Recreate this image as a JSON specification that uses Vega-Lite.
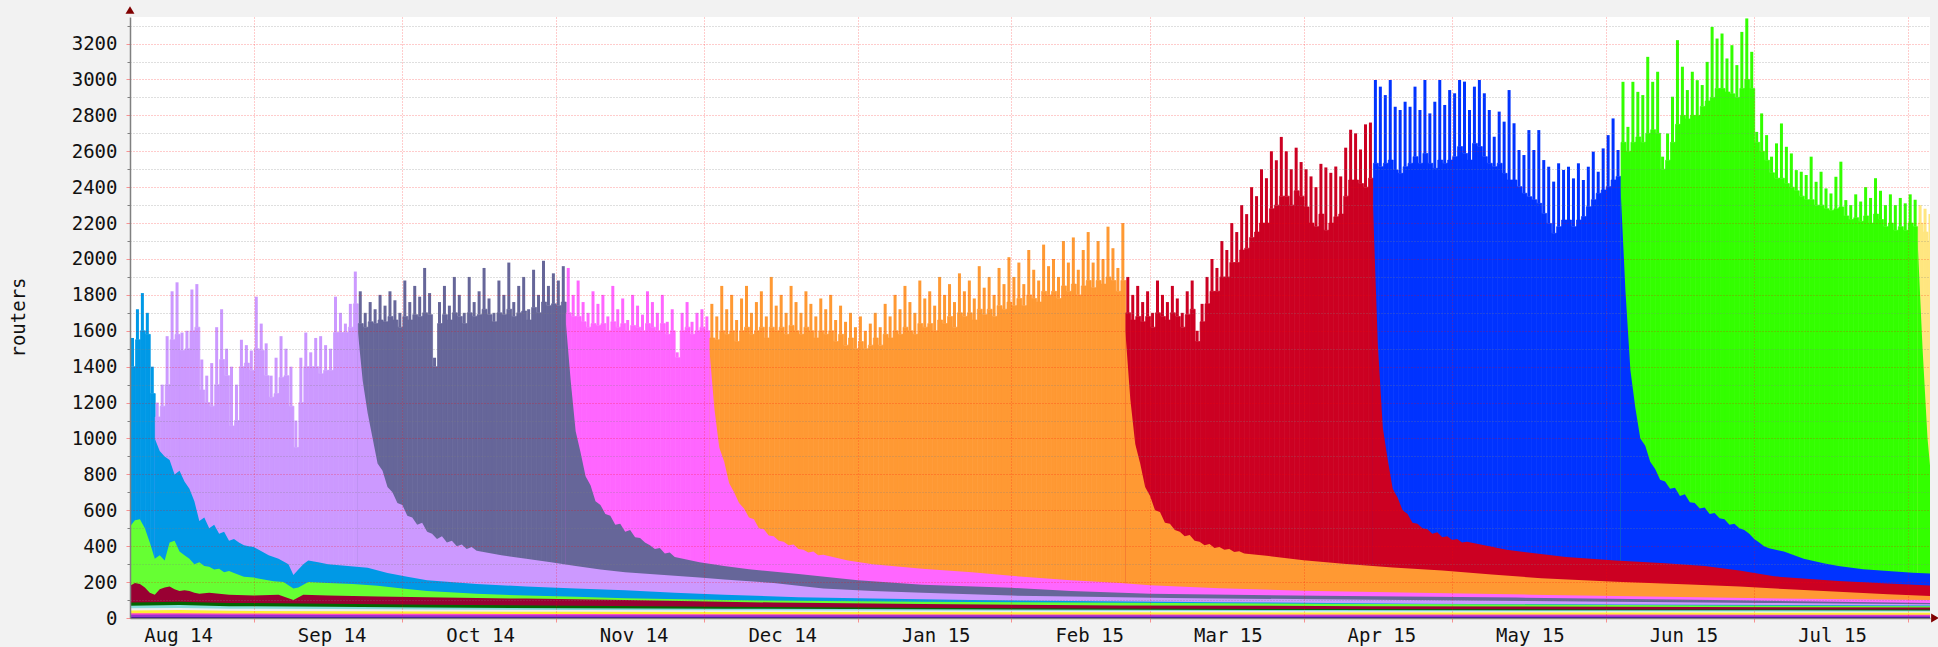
{
"$schema":"https://vega.github.io/schema/vega-lite/v6.json",
"width":1800,"height":601,
"autosize":{"type":"none"},
"padding":{"left":130,"top":17,"right":8,"bottom":29},
"background":"#f2f2f2",
"config":{"view":{"fill":"#ffffff","stroke":null},"font":"DejaVu Sans Mono"},
"datasets":{
"env":[
{"t":"2014-08-07","s":"LB","h":1560,"l":1400},{"t":"2014-08-08","s":"LB","h":1720,"l":1550},{"t":"2014-08-09","s":"LB","h":1810,"l":1600},{"t":"2014-08-10","s":"LB","h":1700,"l":1580},{"t":"2014-08-11","s":"LB","h":1400,"l":1250},
{"t":"2014-08-12","s":"LV","h":1200,"l":1120},{"t":"2014-08-13","s":"LV","h":1300,"l":1180},{"t":"2014-08-14","s":"LV","h":1570,"l":1300},{"t":"2014-08-15","s":"LV","h":1820,"l":1550},{"t":"2014-08-16","s":"LV","h":1870,"l":1580},{"t":"2014-08-17","s":"LV","h":1590,"l":1490},{"t":"2014-08-18","s":"LV","h":1600,"l":1500},{"t":"2014-08-19","s":"LV","h":1830,"l":1600},{"t":"2014-08-20","s":"LV","h":1860,"l":1620},{"t":"2014-08-21","s":"LV","h":1440,"l":1270},{"t":"2014-08-22","s":"LV","h":1350,"l":1200},{"t":"2014-08-23","s":"LV","h":1420,"l":1180},{"t":"2014-08-24","s":"LV","h":1620,"l":1300},{"t":"2014-08-25","s":"LV","h":1720,"l":1440},{"t":"2014-08-26","s":"LV","h":1500,"l":1350},{"t":"2014-08-27","s":"LV","h":1400,"l":1070},{"t":"2014-08-28","s":"LV","h":1300,"l":1100},{"t":"2014-08-29","s":"LV","h":1550,"l":1400},{"t":"2014-08-30","s":"LV","h":1520,"l":1420},{"t":"2014-08-31","s":"LV","h":1490,"l":1380},
{"t":"2014-09-01","s":"LV","h":1790,"l":1500},{"t":"2014-09-02","s":"LV","h":1640,"l":1490},{"t":"2014-09-03","s":"LV","h":1530,"l":1350},{"t":"2014-09-04","s":"LV","h":1350,"l":1230},{"t":"2014-09-05","s":"LV","h":1450,"l":1250},{"t":"2014-09-06","s":"LV","h":1570,"l":1340},{"t":"2014-09-07","s":"LV","h":1500,"l":1350},{"t":"2014-09-08","s":"LV","h":1400,"l":1180},{"t":"2014-09-09","s":"LV","h":1100,"l":950},{"t":"2014-09-10","s":"LV","h":1450,"l":1200},{"t":"2014-09-11","s":"LV","h":1590,"l":1400},{"t":"2014-09-12","s":"LV","h":1480,"l":1400},{"t":"2014-09-13","s":"LV","h":1560,"l":1400},{"t":"2014-09-14","s":"LV","h":1570,"l":1360},{"t":"2014-09-15","s":"LV","h":1520,"l":1380},{"t":"2014-09-16","s":"LV","h":1500,"l":1380},{"t":"2014-09-17","s":"LV","h":1790,"l":1590},{"t":"2014-09-18","s":"LV","h":1700,"l":1590},{"t":"2014-09-19","s":"LV","h":1640,"l":1590},{"t":"2014-09-20","s":"LV","h":1750,"l":1620},{"t":"2014-09-21","s":"LV","h":1930,"l":1750},
{"t":"2014-09-22","s":"SL","h":1820,"l":1640},{"t":"2014-09-23","s":"SL","h":1700,"l":1620},{"t":"2014-09-24","s":"SL","h":1760,"l":1650},{"t":"2014-09-25","s":"SL","h":1720,"l":1640},{"t":"2014-09-26","s":"SL","h":1800,"l":1660},{"t":"2014-09-27","s":"SL","h":1740,"l":1650},{"t":"2014-09-28","s":"SL","h":1820,"l":1680},{"t":"2014-09-29","s":"SL","h":1770,"l":1660},{"t":"2014-09-30","s":"SL","h":1700,"l":1620},
{"t":"2014-10-01","s":"SL","h":1880,"l":1680},{"t":"2014-10-02","s":"SL","h":1760,"l":1660},{"t":"2014-10-03","s":"SL","h":1850,"l":1690},{"t":"2014-10-04","s":"SL","h":1790,"l":1680},{"t":"2014-10-05","s":"SL","h":1950,"l":1700},{"t":"2014-10-06","s":"SL","h":1810,"l":1690},{"t":"2014-10-07","s":"SL","h":1450,"l":1400},{"t":"2014-10-08","s":"SL","h":1760,"l":1640},{"t":"2014-10-09","s":"SL","h":1850,"l":1690},{"t":"2014-10-10","s":"SL","h":1740,"l":1660},{"t":"2014-10-11","s":"SL","h":1900,"l":1700},{"t":"2014-10-12","s":"SL","h":1800,"l":1680},{"t":"2014-10-13","s":"SL","h":1700,"l":1640},{"t":"2014-10-14","s":"SL","h":1900,"l":1700},{"t":"2014-10-15","s":"SL","h":1760,"l":1680},{"t":"2014-10-16","s":"SL","h":1820,"l":1690},{"t":"2014-10-17","s":"SL","h":1950,"l":1720},{"t":"2014-10-18","s":"SL","h":1780,"l":1690},{"t":"2014-10-19","s":"SL","h":1700,"l":1650},{"t":"2014-10-20","s":"SL","h":1880,"l":1700},{"t":"2014-10-21","s":"SL","h":1800,"l":1690},{"t":"2014-10-22","s":"SL","h":1980,"l":1720},{"t":"2014-10-23","s":"SL","h":1760,"l":1680},{"t":"2014-10-24","s":"SL","h":1850,"l":1700},{"t":"2014-10-25","s":"SL","h":1900,"l":1710},{"t":"2014-10-26","s":"SL","h":1720,"l":1660},{"t":"2014-10-27","s":"SL","h":1940,"l":1730},{"t":"2014-10-28","s":"SL","h":1800,"l":1700},{"t":"2014-10-29","s":"SL","h":1990,"l":1760},{"t":"2014-10-30","s":"SL","h":1850,"l":1740},{"t":"2014-10-31","s":"SL","h":1920,"l":1750},
{"t":"2014-11-01","s":"SL","h":1880,"l":1740},{"t":"2014-11-02","s":"SL","h":1960,"l":1760},
{"t":"2014-11-03","s":"PK","h":1950,"l":1700},{"t":"2014-11-04","s":"PK","h":1800,"l":1680},{"t":"2014-11-05","s":"PK","h":1880,"l":1680},{"t":"2014-11-06","s":"PK","h":1760,"l":1650},{"t":"2014-11-07","s":"PK","h":1700,"l":1620},{"t":"2014-11-08","s":"PK","h":1820,"l":1640},{"t":"2014-11-09","s":"PK","h":1750,"l":1630},{"t":"2014-11-10","s":"PK","h":1800,"l":1640},{"t":"2014-11-11","s":"PK","h":1680,"l":1600},{"t":"2014-11-12","s":"PK","h":1850,"l":1650},{"t":"2014-11-13","s":"PK","h":1720,"l":1620},{"t":"2014-11-14","s":"PK","h":1780,"l":1640},{"t":"2014-11-15","s":"PK","h":1660,"l":1600},{"t":"2014-11-16","s":"PK","h":1800,"l":1630},{"t":"2014-11-17","s":"PK","h":1740,"l":1620},{"t":"2014-11-18","s":"PK","h":1690,"l":1600},{"t":"2014-11-19","s":"PK","h":1820,"l":1640},{"t":"2014-11-20","s":"PK","h":1760,"l":1620},{"t":"2014-11-21","s":"PK","h":1700,"l":1600},{"t":"2014-11-22","s":"PK","h":1800,"l":1640},{"t":"2014-11-23","s":"PK","h":1650,"l":1580},{"t":"2014-11-24","s":"PK","h":1720,"l":1600},{"t":"2014-11-25","s":"PK","h":1480,"l":1450},{"t":"2014-11-26","s":"PK","h":1700,"l":1600},{"t":"2014-11-27","s":"PK","h":1760,"l":1620},{"t":"2014-11-28","s":"PK","h":1650,"l":1580},{"t":"2014-11-29","s":"PK","h":1700,"l":1600},{"t":"2014-11-30","s":"PK","h":1720,"l":1620},{"t":"2014-12-01","s":"PK","h":1680,"l":1600},
{"t":"2014-12-02","s":"OR","h":1750,"l":1560},{"t":"2014-12-03","s":"OR","h":1680,"l":1550},{"t":"2014-12-04","s":"OR","h":1850,"l":1600},{"t":"2014-12-05","s":"OR","h":1720,"l":1580},{"t":"2014-12-06","s":"OR","h":1800,"l":1600},{"t":"2014-12-07","s":"OR","h":1660,"l":1540},{"t":"2014-12-08","s":"OR","h":1780,"l":1600},{"t":"2014-12-09","s":"OR","h":1850,"l":1620},{"t":"2014-12-10","s":"OR","h":1700,"l":1580},{"t":"2014-12-11","s":"OR","h":1760,"l":1600},{"t":"2014-12-12","s":"OR","h":1820,"l":1620},{"t":"2014-12-13","s":"OR","h":1680,"l":1560},{"t":"2014-12-14","s":"OR","h":1900,"l":1620},{"t":"2014-12-15","s":"OR","h":1740,"l":1600},{"t":"2014-12-16","s":"OR","h":1800,"l":1620},{"t":"2014-12-17","s":"OR","h":1700,"l":1580},{"t":"2014-12-18","s":"OR","h":1850,"l":1630},{"t":"2014-12-19","s":"OR","h":1760,"l":1600},{"t":"2014-12-20","s":"OR","h":1700,"l":1580},{"t":"2014-12-21","s":"OR","h":1820,"l":1620},{"t":"2014-12-22","s":"OR","h":1750,"l":1600},{"t":"2014-12-23","s":"OR","h":1680,"l":1560},{"t":"2014-12-24","s":"OR","h":1780,"l":1600},{"t":"2014-12-25","s":"OR","h":1720,"l":1580},{"t":"2014-12-26","s":"OR","h":1800,"l":1600},{"t":"2014-12-27","s":"OR","h":1660,"l":1540},{"t":"2014-12-28","s":"OR","h":1740,"l":1580},{"t":"2014-12-29","s":"OR","h":1650,"l":1520},{"t":"2014-12-30","s":"OR","h":1700,"l":1560},{"t":"2014-12-31","s":"OR","h":1620,"l":1500},
{"t":"2015-01-01","s":"OR","h":1680,"l":1540},{"t":"2015-01-02","s":"OR","h":1600,"l":1500},{"t":"2015-01-03","s":"OR","h":1640,"l":1520},{"t":"2015-01-04","s":"OR","h":1700,"l":1560},{"t":"2015-01-05","s":"OR","h":1620,"l":1520},{"t":"2015-01-06","s":"OR","h":1750,"l":1580},{"t":"2015-01-07","s":"OR","h":1680,"l":1560},{"t":"2015-01-08","s":"OR","h":1800,"l":1600},{"t":"2015-01-09","s":"OR","h":1720,"l":1580},{"t":"2015-01-10","s":"OR","h":1850,"l":1620},{"t":"2015-01-11","s":"OR","h":1760,"l":1600},{"t":"2015-01-12","s":"OR","h":1700,"l":1580},{"t":"2015-01-13","s":"OR","h":1880,"l":1640},{"t":"2015-01-14","s":"OR","h":1780,"l":1620},{"t":"2015-01-15","s":"OR","h":1820,"l":1640},{"t":"2015-01-16","s":"OR","h":1740,"l":1600},{"t":"2015-01-17","s":"OR","h":1900,"l":1660},{"t":"2015-01-18","s":"OR","h":1800,"l":1640},{"t":"2015-01-19","s":"OR","h":1860,"l":1680},{"t":"2015-01-20","s":"OR","h":1760,"l":1620},{"t":"2015-01-21","s":"OR","h":1920,"l":1700},{"t":"2015-01-22","s":"OR","h":1820,"l":1680},{"t":"2015-01-23","s":"OR","h":1880,"l":1700},{"t":"2015-01-24","s":"OR","h":1780,"l":1660},{"t":"2015-01-25","s":"OR","h":1960,"l":1720},{"t":"2015-01-26","s":"OR","h":1840,"l":1690},{"t":"2015-01-27","s":"OR","h":1900,"l":1720},{"t":"2015-01-28","s":"OR","h":1800,"l":1680},{"t":"2015-01-29","s":"OR","h":1950,"l":1740},{"t":"2015-01-30","s":"OR","h":1860,"l":1720},{"t":"2015-01-31","s":"OR","h":2010,"l":1760},
{"t":"2015-02-01","s":"OR","h":1900,"l":1740},{"t":"2015-02-02","s":"OR","h":1980,"l":1780},{"t":"2015-02-03","s":"OR","h":1860,"l":1740},{"t":"2015-02-04","s":"OR","h":2050,"l":1800},{"t":"2015-02-05","s":"OR","h":1940,"l":1780},{"t":"2015-02-06","s":"OR","h":1880,"l":1760},{"t":"2015-02-07","s":"OR","h":2080,"l":1820},{"t":"2015-02-08","s":"OR","h":1960,"l":1800},{"t":"2015-02-09","s":"OR","h":2000,"l":1820},{"t":"2015-02-10","s":"OR","h":1900,"l":1780},{"t":"2015-02-11","s":"OR","h":2100,"l":1850},{"t":"2015-02-12","s":"OR","h":1980,"l":1820},{"t":"2015-02-13","s":"OR","h":2120,"l":1860},{"t":"2015-02-14","s":"OR","h":1940,"l":1800},{"t":"2015-02-15","s":"OR","h":2050,"l":1850},{"t":"2015-02-16","s":"OR","h":2150,"l":1880},{"t":"2015-02-17","s":"OR","h":1980,"l":1840},{"t":"2015-02-18","s":"OR","h":2100,"l":1880},{"t":"2015-02-19","s":"OR","h":2000,"l":1860},{"t":"2015-02-20","s":"OR","h":2180,"l":1900},{"t":"2015-02-21","s":"OR","h":2060,"l":1880},{"t":"2015-02-22","s":"OR","h":1950,"l":1820},{"t":"2015-02-23","s":"OR","h":2200,"l":1880},
{"t":"2015-02-24","s":"RD","h":1900,"l":1700},{"t":"2015-02-25","s":"RD","h":1800,"l":1660},{"t":"2015-02-26","s":"RD","h":1850,"l":1680},{"t":"2015-02-27","s":"RD","h":1760,"l":1650},{"t":"2015-02-28","s":"RD","h":1820,"l":1680},
{"t":"2015-03-01","s":"RD","h":1700,"l":1620},{"t":"2015-03-02","s":"RD","h":1880,"l":1700},{"t":"2015-03-03","s":"RD","h":1800,"l":1680},{"t":"2015-03-04","s":"RD","h":1760,"l":1660},{"t":"2015-03-05","s":"RD","h":1850,"l":1700},{"t":"2015-03-06","s":"RD","h":1780,"l":1680},{"t":"2015-03-07","s":"RD","h":1700,"l":1620},{"t":"2015-03-08","s":"RD","h":1820,"l":1690},{"t":"2015-03-09","s":"RD","h":1880,"l":1720},{"t":"2015-03-10","s":"RD","h":1600,"l":1540},{"t":"2015-03-11","s":"RD","h":1750,"l":1650},{"t":"2015-03-12","s":"RD","h":1900,"l":1750},{"t":"2015-03-13","s":"RD","h":2000,"l":1820},{"t":"2015-03-14","s":"RD","h":1950,"l":1820},{"t":"2015-03-15","s":"RD","h":2100,"l":1900},{"t":"2015-03-16","s":"RD","h":2050,"l":1900},{"t":"2015-03-17","s":"RD","h":2200,"l":1980},{"t":"2015-03-18","s":"RD","h":2150,"l":1980},{"t":"2015-03-19","s":"RD","h":2300,"l":2050},{"t":"2015-03-20","s":"RD","h":2250,"l":2060},{"t":"2015-03-21","s":"RD","h":2400,"l":2120},{"t":"2015-03-22","s":"RD","h":2350,"l":2150},{"t":"2015-03-23","s":"RD","h":2500,"l":2200},{"t":"2015-03-24","s":"RD","h":2450,"l":2200},{"t":"2015-03-25","s":"RD","h":2600,"l":2280},{"t":"2015-03-26","s":"RD","h":2550,"l":2300},{"t":"2015-03-27","s":"RD","h":2680,"l":2350},{"t":"2015-03-28","s":"RD","h":2600,"l":2350},{"t":"2015-03-29","s":"RD","h":2500,"l":2300},{"t":"2015-03-30","s":"RD","h":2620,"l":2380},{"t":"2015-03-31","s":"RD","h":2540,"l":2350},
{"t":"2015-04-01","s":"RD","h":2500,"l":2290},{"t":"2015-04-02","s":"RD","h":2460,"l":2200},{"t":"2015-04-03","s":"RD","h":2400,"l":2180},{"t":"2015-04-04","s":"RD","h":2530,"l":2250},{"t":"2015-04-05","s":"RD","h":2510,"l":2160},{"t":"2015-04-06","s":"RD","h":2480,"l":2200},{"t":"2015-04-07","s":"RD","h":2515,"l":2235},{"t":"2015-04-08","s":"RD","h":2460,"l":2250},{"t":"2015-04-09","s":"RD","h":2620,"l":2350},{"t":"2015-04-10","s":"RD","h":2720,"l":2440},{"t":"2015-04-11","s":"RD","h":2700,"l":2440},{"t":"2015-04-12","s":"RD","h":2610,"l":2420},{"t":"2015-04-13","s":"RD","h":2750,"l":2400},{"t":"2015-04-14","s":"RD","h":2760,"l":2450},
{"t":"2015-04-15","s":"BL","h":2997,"l":2533},{"t":"2015-04-16","s":"BL","h":2960,"l":2514},{"t":"2015-04-17","s":"BL","h":2913,"l":2533},{"t":"2015-04-18","s":"BL","h":2997,"l":2551},{"t":"2015-04-19","s":"BL","h":2848,"l":2496},{"t":"2015-04-20","s":"BL","h":2830,"l":2477},{"t":"2015-04-21","s":"BL","h":2876,"l":2514},{"t":"2015-04-22","s":"BL","h":2848,"l":2533},{"t":"2015-04-23","s":"BL","h":2960,"l":2570},{"t":"2015-04-24","s":"BL","h":2830,"l":2533},{"t":"2015-04-25","s":"BL","h":2997,"l":2588},{"t":"2015-04-26","s":"BL","h":2811,"l":2533},{"t":"2015-04-27","s":"BL","h":2876,"l":2505},{"t":"2015-04-28","s":"BL","h":2997,"l":2551},{"t":"2015-04-29","s":"BL","h":2858,"l":2533},{"t":"2015-04-30","s":"BL","h":2941,"l":2551},
{"t":"2015-05-01","s":"BL","h":2923,"l":2570},{"t":"2015-05-02","s":"BL","h":2997,"l":2626},{"t":"2015-05-03","s":"BL","h":2988,"l":2588},{"t":"2015-05-04","s":"BL","h":2830,"l":2551},{"t":"2015-05-05","s":"BL","h":2960,"l":2644},{"t":"2015-05-06","s":"BL","h":2997,"l":2626},{"t":"2015-05-07","s":"BL","h":2923,"l":2570},{"t":"2015-05-08","s":"BL","h":2830,"l":2533},{"t":"2015-05-09","s":"BL","h":2681,"l":2514},{"t":"2015-05-10","s":"BL","h":2821,"l":2533},{"t":"2015-05-11","s":"BL","h":2765,"l":2477},{"t":"2015-05-12","s":"BL","h":2941,"l":2440},{"t":"2015-05-13","s":"BL","h":2756,"l":2440},{"t":"2015-05-14","s":"BL","h":2607,"l":2403},{"t":"2015-05-15","s":"BL","h":2579,"l":2366},{"t":"2015-05-16","s":"BL","h":2718,"l":2347},{"t":"2015-05-17","s":"BL","h":2607,"l":2330},{"t":"2015-05-18","s":"BL","h":2718,"l":2310},{"t":"2015-05-19","s":"BL","h":2551,"l":2254},{"t":"2015-05-20","s":"BL","h":2514,"l":2198},{"t":"2015-05-21","s":"BL","h":2431,"l":2143},{"t":"2015-05-22","s":"BL","h":2533,"l":2180},{"t":"2015-05-23","s":"BL","h":2496,"l":2217},{"t":"2015-05-24","s":"BL","h":2514,"l":2217},{"t":"2015-05-25","s":"BL","h":2449,"l":2180},{"t":"2015-05-26","s":"BL","h":2533,"l":2217},{"t":"2015-05-27","s":"BL","h":2440,"l":2236},{"t":"2015-05-28","s":"BL","h":2514,"l":2291},{"t":"2015-05-29","s":"BL","h":2598,"l":2330},{"t":"2015-05-30","s":"BL","h":2486,"l":2366},{"t":"2015-05-31","s":"BL","h":2616,"l":2384},
{"t":"2015-06-01","s":"BL","h":2690,"l":2403},{"t":"2015-06-02","s":"BL","h":2783,"l":2440},{"t":"2015-06-03","s":"BL","h":2607,"l":2460},
{"t":"2015-06-04","s":"GR","h":2987,"l":2650},{"t":"2015-06-05","s":"GR","h":2736,"l":2600},{"t":"2015-06-06","s":"GR","h":2987,"l":2650},{"t":"2015-06-07","s":"GR","h":2931,"l":2680},{"t":"2015-06-08","s":"GR","h":2913,"l":2650},{"t":"2015-06-09","s":"GR","h":3126,"l":2700},{"t":"2015-06-10","s":"GR","h":2987,"l":2720},{"t":"2015-06-11","s":"GR","h":3043,"l":2700},{"t":"2015-06-12","s":"GR","h":2570,"l":2500},{"t":"2015-06-13","s":"GR","h":2699,"l":2550},{"t":"2015-06-14","s":"GR","h":2904,"l":2650},{"t":"2015-06-15","s":"GR","h":3219,"l":2750},{"t":"2015-06-16","s":"GR","h":3071,"l":2800},{"t":"2015-06-17","s":"GR","h":2941,"l":2780},{"t":"2015-06-18","s":"GR","h":3043,"l":2800},{"t":"2015-06-19","s":"GR","h":2996,"l":2800},{"t":"2015-06-20","s":"GR","h":2969,"l":2850},{"t":"2015-06-21","s":"GR","h":3098,"l":2880},{"t":"2015-06-22","s":"GR","h":3293,"l":2900},{"t":"2015-06-23","s":"GR","h":3228,"l":2950},{"t":"2015-06-24","s":"GR","h":3256,"l":2950},{"t":"2015-06-25","s":"GR","h":3117,"l":2930},{"t":"2015-06-26","s":"GR","h":3191,"l":2920},{"t":"2015-06-27","s":"GR","h":3080,"l":2900},{"t":"2015-06-28","s":"GR","h":3265,"l":2950},{"t":"2015-06-29","s":"GR","h":3340,"l":3000},{"t":"2015-06-30","s":"GR","h":3154,"l":2950},
{"t":"2015-07-01","s":"GR","h":2708,"l":2650},{"t":"2015-07-02","s":"GR","h":2811,"l":2600},{"t":"2015-07-03","s":"GR","h":2690,"l":2550},{"t":"2015-07-04","s":"GR","h":2570,"l":2480},{"t":"2015-07-05","s":"GR","h":2644,"l":2450},{"t":"2015-07-06","s":"GR","h":2755,"l":2450},{"t":"2015-07-07","s":"GR","h":2625,"l":2420},{"t":"2015-07-08","s":"GR","h":2588,"l":2400},{"t":"2015-07-09","s":"GR","h":2495,"l":2380},{"t":"2015-07-10","s":"GR","h":2486,"l":2350},{"t":"2015-07-11","s":"GR","h":2468,"l":2330},{"t":"2015-07-12","s":"GR","h":2570,"l":2330},{"t":"2015-07-13","s":"GR","h":2430,"l":2300},{"t":"2015-07-14","s":"GR","h":2486,"l":2300},{"t":"2015-07-15","s":"GR","h":2393,"l":2280},{"t":"2015-07-16","s":"GR","h":2365,"l":2270},{"t":"2015-07-17","s":"GR","h":2458,"l":2280},{"t":"2015-07-18","s":"GR","h":2542,"l":2290},{"t":"2015-07-19","s":"GR","h":2328,"l":2240},{"t":"2015-07-20","s":"GR","h":2300,"l":2220},{"t":"2015-07-21","s":"GR","h":2360,"l":2230},{"t":"2015-07-22","s":"GR","h":2320,"l":2210},{"t":"2015-07-23","s":"GR","h":2400,"l":2240},{"t":"2015-07-24","s":"GR","h":2340,"l":2200},{"t":"2015-07-25","s":"GR","h":2450,"l":2250},{"t":"2015-07-26","s":"GR","h":2380,"l":2220},{"t":"2015-07-27","s":"GR","h":2300,"l":2180},{"t":"2015-07-28","s":"GR","h":2360,"l":2200},{"t":"2015-07-29","s":"GR","h":2300,"l":2160},{"t":"2015-07-30","s":"GR","h":2340,"l":2180},{"t":"2015-07-31","s":"GR","h":2310,"l":2160},
{"t":"2015-08-01","s":"GR","h":2360,"l":2200},{"t":"2015-08-02","s":"GR","h":2330,"l":2180},
{"t":"2015-08-03","s":"YE","h":2300,"l":2200},{"t":"2015-08-04","s":"YE","h":2280,"l":2150},{"t":"2015-08-05","s":"YE","h":2250,"l":2100}
],
"dec":[
{"s":"GR","t":"2015-08-03","v":2100},{"s":"GR","t":"2015-08-04","v":1500},{"s":"GR","t":"2015-08-05","v":1000},{"s":"GR","t":"2015-08-06","v":700},
{"s":"BL","t":"2015-06-04","v":2400},{"s":"BL","t":"2015-06-05","v":1820},{"s":"BL","t":"2015-06-06","v":1380},{"s":"BL","t":"2015-06-07","v":1170},{"s":"BL","t":"2015-06-08","v":1000},{"s":"BL","t":"2015-06-09","v":960},{"s":"BL","t":"2015-06-10","v":870},{"s":"BL","t":"2015-06-11","v":830},{"s":"BL","t":"2015-06-12","v":770},{"s":"BL","t":"2015-06-13","v":760},{"s":"BL","t":"2015-06-14","v":720},{"s":"BL","t":"2015-06-15","v":725},{"s":"BL","t":"2015-06-16","v":680},{"s":"BL","t":"2015-06-17","v":690},{"s":"BL","t":"2015-06-18","v":645},{"s":"BL","t":"2015-06-19","v":640},{"s":"BL","t":"2015-06-20","v":610},{"s":"BL","t":"2015-06-21","v":615},{"s":"BL","t":"2015-06-22","v":580},{"s":"BL","t":"2015-06-23","v":585},{"s":"BL","t":"2015-06-24","v":555},{"s":"BL","t":"2015-06-25","v":550},{"s":"BL","t":"2015-06-26","v":520},{"s":"BL","t":"2015-06-27","v":525},{"s":"BL","t":"2015-06-28","v":500},{"s":"BL","t":"2015-06-29","v":490},{"s":"BL","t":"2015-06-30","v":470},{"s":"BL","t":"2015-07-01","v":440},{"s":"BL","t":"2015-07-02","v":420},{"s":"BL","t":"2015-07-03","v":400},{"s":"BL","t":"2015-07-04","v":388},{"s":"BL","t":"2015-07-07","v":370},{"s":"BL","t":"2015-07-11","v":330},{"s":"BL","t":"2015-07-15","v":305},{"s":"BL","t":"2015-07-18","v":290},{"s":"BL","t":"2015-07-23","v":272},{"s":"BL","t":"2015-07-28","v":262},{"s":"BL","t":"2015-08-02","v":252},{"s":"BL","t":"2015-08-06","v":248},
{"s":"RD","t":"2015-04-15","v":2300},{"s":"RD","t":"2015-04-16","v":1520},{"s":"RD","t":"2015-04-17","v":1060},{"s":"RD","t":"2015-04-18","v":880},{"s":"RD","t":"2015-04-19","v":720},{"s":"RD","t":"2015-04-20","v":670},{"s":"RD","t":"2015-04-21","v":600},{"s":"RD","t":"2015-04-22","v":580},{"s":"RD","t":"2015-04-23","v":530},{"s":"RD","t":"2015-04-24","v":525},{"s":"RD","t":"2015-04-25","v":500},{"s":"RD","t":"2015-04-26","v":495},{"s":"RD","t":"2015-04-27","v":470},{"s":"RD","t":"2015-04-28","v":478},{"s":"RD","t":"2015-04-29","v":450},{"s":"RD","t":"2015-04-30","v":455},{"s":"RD","t":"2015-05-01","v":435},{"s":"RD","t":"2015-05-02","v":440},{"s":"RD","t":"2015-05-03","v":420},{"s":"RD","t":"2015-05-04","v":425},{"s":"RD","t":"2015-05-12","v":380},{"s":"RD","t":"2015-05-24","v":340},{"s":"RD","t":"2015-06-03","v":320},{"s":"RD","t":"2015-06-13","v":305},{"s":"RD","t":"2015-06-21","v":290},{"s":"RD","t":"2015-06-28","v":265},{"s":"RD","t":"2015-07-05","v":232},{"s":"RD","t":"2015-07-18","v":206},{"s":"RD","t":"2015-07-28","v":192},{"s":"RD","t":"2015-08-06","v":180},
{"s":"OR","t":"2015-02-24","v":1600},{"s":"OR","t":"2015-02-25","v":1220},{"s":"OR","t":"2015-02-26","v":970},{"s":"OR","t":"2015-02-27","v":860},{"s":"OR","t":"2015-02-28","v":730},{"s":"OR","t":"2015-03-01","v":680},{"s":"OR","t":"2015-03-02","v":600},{"s":"OR","t":"2015-03-03","v":590},{"s":"OR","t":"2015-03-04","v":530},{"s":"OR","t":"2015-03-05","v":525},{"s":"OR","t":"2015-03-06","v":490},{"s":"OR","t":"2015-03-07","v":480},{"s":"OR","t":"2015-03-08","v":455},{"s":"OR","t":"2015-03-09","v":462},{"s":"OR","t":"2015-03-10","v":430},{"s":"OR","t":"2015-03-11","v":425},{"s":"OR","t":"2015-03-12","v":405},{"s":"OR","t":"2015-03-13","v":412},{"s":"OR","t":"2015-03-14","v":390},{"s":"OR","t":"2015-03-15","v":395},{"s":"OR","t":"2015-03-16","v":380},{"s":"OR","t":"2015-03-17","v":385},{"s":"OR","t":"2015-03-18","v":368},{"s":"OR","t":"2015-03-19","v":372},{"s":"OR","t":"2015-03-20","v":360},{"s":"OR","t":"2015-03-25","v":345},{"s":"OR","t":"2015-04-01","v":322},{"s":"OR","t":"2015-04-09","v":302},{"s":"OR","t":"2015-04-19","v":282},{"s":"OR","t":"2015-04-29","v":265},{"s":"OR","t":"2015-05-09","v":242},{"s":"OR","t":"2015-05-19","v":222},{"s":"OR","t":"2015-06-03","v":202},{"s":"OR","t":"2015-06-18","v":186},{"s":"OR","t":"2015-06-28","v":175},{"s":"OR","t":"2015-07-08","v":160},{"s":"OR","t":"2015-07-18","v":146},{"s":"OR","t":"2015-07-28","v":132},{"s":"OR","t":"2015-08-06","v":122},
{"s":"PK","t":"2014-12-02","v":1500},{"s":"PK","t":"2014-12-03","v":1170},{"s":"PK","t":"2014-12-04","v":950},{"s":"PK","t":"2014-12-05","v":870},{"s":"PK","t":"2014-12-06","v":750},{"s":"PK","t":"2014-12-07","v":700},{"s":"PK","t":"2014-12-08","v":640},{"s":"PK","t":"2014-12-09","v":610},{"s":"PK","t":"2014-12-10","v":560},{"s":"PK","t":"2014-12-11","v":550},{"s":"PK","t":"2014-12-12","v":500},{"s":"PK","t":"2014-12-13","v":495},{"s":"PK","t":"2014-12-14","v":460},{"s":"PK","t":"2014-12-15","v":455},{"s":"PK","t":"2014-12-16","v":430},{"s":"PK","t":"2014-12-17","v":425},{"s":"PK","t":"2014-12-18","v":405},{"s":"PK","t":"2014-12-19","v":410},{"s":"PK","t":"2014-12-20","v":385},{"s":"PK","t":"2014-12-21","v":380},{"s":"PK","t":"2014-12-22","v":365},{"s":"PK","t":"2014-12-23","v":370},{"s":"PK","t":"2014-12-24","v":350},{"s":"PK","t":"2014-12-25","v":352},{"s":"PK","t":"2014-12-30","v":320},{"s":"PK","t":"2015-01-04","v":300},{"s":"PK","t":"2015-01-14","v":275},{"s":"PK","t":"2015-01-24","v":255},{"s":"PK","t":"2015-02-01","v":235},{"s":"PK","t":"2015-02-13","v":210},{"s":"PK","t":"2015-02-23","v":195},{"s":"PK","t":"2015-03-01","v":182},{"s":"PK","t":"2015-03-15","v":166},{"s":"PK","t":"2015-04-01","v":152},{"s":"PK","t":"2015-04-24","v":140},{"s":"PK","t":"2015-05-17","v":130},{"s":"PK","t":"2015-06-03","v":122},{"s":"PK","t":"2015-07-03","v":110},{"s":"PK","t":"2015-08-06","v":100},
{"s":"SL","t":"2014-11-03","v":1650},{"s":"SL","t":"2014-11-04","v":1320},{"s":"SL","t":"2014-11-05","v":1040},{"s":"SL","t":"2014-11-06","v":920},{"s":"SL","t":"2014-11-07","v":790},{"s":"SL","t":"2014-11-08","v":740},{"s":"SL","t":"2014-11-09","v":650},{"s":"SL","t":"2014-11-10","v":630},{"s":"SL","t":"2014-11-11","v":580},{"s":"SL","t":"2014-11-12","v":570},{"s":"SL","t":"2014-11-13","v":520},{"s":"SL","t":"2014-11-14","v":525},{"s":"SL","t":"2014-11-15","v":480},{"s":"SL","t":"2014-11-16","v":490},{"s":"SL","t":"2014-11-17","v":450},{"s":"SL","t":"2014-11-18","v":445},{"s":"SL","t":"2014-11-19","v":420},{"s":"SL","t":"2014-11-20","v":405},{"s":"SL","t":"2014-11-21","v":385},{"s":"SL","t":"2014-11-22","v":390},{"s":"SL","t":"2014-11-23","v":360},{"s":"SL","t":"2014-11-24","v":365},{"s":"SL","t":"2014-11-25","v":340},{"s":"SL","t":"2014-11-30","v":310},{"s":"SL","t":"2014-12-05","v":290},{"s":"SL","t":"2014-12-10","v":272},{"s":"SL","t":"2014-12-20","v":245},{"s":"SL","t":"2015-01-01","v":210},{"s":"SL","t":"2015-01-14","v":185},{"s":"SL","t":"2015-02-01","v":168},{"s":"SL","t":"2015-02-13","v":150},{"s":"SL","t":"2015-03-01","v":135},{"s":"SL","t":"2015-04-04","v":124},{"s":"SL","t":"2015-05-14","v":114},{"s":"SL","t":"2015-06-23","v":100},{"s":"SL","t":"2015-08-06","v":84},
{"s":"LV","t":"2014-09-22","v":1600},{"s":"LV","t":"2014-09-23","v":1320},{"s":"LV","t":"2014-09-24","v":1140},{"s":"LV","t":"2014-09-25","v":1000},{"s":"LV","t":"2014-09-26","v":860},{"s":"LV","t":"2014-09-27","v":820},{"s":"LV","t":"2014-09-28","v":730},{"s":"LV","t":"2014-09-29","v":700},{"s":"LV","t":"2014-09-30","v":640},{"s":"LV","t":"2014-10-01","v":630},{"s":"LV","t":"2014-10-02","v":570},{"s":"LV","t":"2014-10-03","v":560},{"s":"LV","t":"2014-10-04","v":520},{"s":"LV","t":"2014-10-05","v":530},{"s":"LV","t":"2014-10-06","v":480},{"s":"LV","t":"2014-10-07","v":470},{"s":"LV","t":"2014-10-08","v":440},{"s":"LV","t":"2014-10-09","v":455},{"s":"LV","t":"2014-10-10","v":420},{"s":"LV","t":"2014-10-11","v":430},{"s":"LV","t":"2014-10-12","v":400},{"s":"LV","t":"2014-10-13","v":410},{"s":"LV","t":"2014-10-14","v":385},{"s":"LV","t":"2014-10-15","v":395},{"s":"LV","t":"2014-10-16","v":375},{"s":"LV","t":"2014-10-21","v":350},{"s":"LV","t":"2014-10-26","v":330},{"s":"LV","t":"2014-10-31","v":310},{"s":"LV","t":"2014-11-05","v":290},{"s":"LV","t":"2014-11-10","v":270},{"s":"LV","t":"2014-11-15","v":255},{"s":"LV","t":"2014-11-20","v":245},{"s":"LV","t":"2014-11-25","v":235},{"s":"LV","t":"2014-11-30","v":225},{"s":"LV","t":"2014-12-05","v":215},{"s":"LV","t":"2014-12-15","v":195},{"s":"LV","t":"2014-12-25","v":165},{"s":"LV","t":"2015-01-04","v":150},{"s":"LV","t":"2015-01-14","v":140},{"s":"LV","t":"2015-02-01","v":125},{"s":"LV","t":"2015-02-13","v":120},{"s":"LV","t":"2015-03-05","v":112},{"s":"LV","t":"2015-04-04","v":104},{"s":"LV","t":"2015-05-04","v":98},{"s":"LV","t":"2015-06-03","v":90},{"s":"LV","t":"2015-07-03","v":84},{"s":"LV","t":"2015-08-06","v":76},
{"s":"LB","t":"2014-08-12","v":1000},{"s":"LB","t":"2014-08-13","v":930},{"s":"LB","t":"2014-08-14","v":900},{"s":"LB","t":"2014-08-15","v":880},{"s":"LB","t":"2014-08-16","v":800},{"s":"LB","t":"2014-08-17","v":820},{"s":"LB","t":"2014-08-18","v":760},{"s":"LB","t":"2014-08-19","v":720},{"s":"LB","t":"2014-08-20","v":650},{"s":"LB","t":"2014-08-21","v":540},{"s":"LB","t":"2014-08-22","v":560},{"s":"LB","t":"2014-08-23","v":500},{"s":"LB","t":"2014-08-24","v":520},{"s":"LB","t":"2014-08-25","v":470},{"s":"LB","t":"2014-08-26","v":480},{"s":"LB","t":"2014-08-27","v":430},{"s":"LB","t":"2014-08-28","v":440},{"s":"LB","t":"2014-08-29","v":420},{"s":"LB","t":"2014-08-30","v":405},{"s":"LB","t":"2014-08-31","v":400},{"s":"LB","t":"2014-09-01","v":395},{"s":"LB","t":"2014-09-02","v":380},{"s":"LB","t":"2014-09-03","v":365},{"s":"LB","t":"2014-09-04","v":350},{"s":"LB","t":"2014-09-05","v":340},{"s":"LB","t":"2014-09-06","v":330},{"s":"LB","t":"2014-09-07","v":315},{"s":"LB","t":"2014-09-08","v":300},{"s":"LB","t":"2014-09-09","v":240},{"s":"LB","t":"2014-09-10","v":270},{"s":"LB","t":"2014-09-11","v":300},{"s":"LB","t":"2014-09-12","v":320},{"s":"LB","t":"2014-09-14","v":310},{"s":"LB","t":"2014-09-16","v":300},{"s":"LB","t":"2014-09-20","v":290},{"s":"LB","t":"2014-09-24","v":280},{"s":"LB","t":"2014-09-28","v":250},{"s":"LB","t":"2014-10-02","v":230},{"s":"LB","t":"2014-10-06","v":210},{"s":"LB","t":"2014-10-16","v":190},{"s":"LB","t":"2014-10-26","v":175},{"s":"LB","t":"2014-11-05","v":165},{"s":"LB","t":"2014-11-15","v":155},{"s":"LB","t":"2014-11-25","v":140},{"s":"LB","t":"2014-12-05","v":130},{"s":"LB","t":"2014-12-20","v":115},{"s":"LB","t":"2015-01-04","v":108},{"s":"LB","t":"2015-01-24","v":100},{"s":"LB","t":"2015-02-13","v":95},{"s":"LB","t":"2015-03-15","v":88},{"s":"LB","t":"2015-04-24","v":80},{"s":"LB","t":"2015-06-03","v":75},{"s":"LB","t":"2015-08-06","v":70},
{"s":"G1","t":"2014-08-07","v":510},{"s":"G1","t":"2014-08-08","v":545},{"s":"G1","t":"2014-08-09","v":550},{"s":"G1","t":"2014-08-10","v":500},{"s":"G1","t":"2014-08-11","v":420},{"s":"G1","t":"2014-08-12","v":330},{"s":"G1","t":"2014-08-13","v":350},{"s":"G1","t":"2014-08-14","v":320},{"s":"G1","t":"2014-08-15","v":420},{"s":"G1","t":"2014-08-16","v":430},{"s":"G1","t":"2014-08-17","v":370},{"s":"G1","t":"2014-08-18","v":350},{"s":"G1","t":"2014-08-19","v":330},{"s":"G1","t":"2014-08-20","v":300},{"s":"G1","t":"2014-08-21","v":310},{"s":"G1","t":"2014-08-22","v":290},{"s":"G1","t":"2014-08-23","v":285},{"s":"G1","t":"2014-08-24","v":270},{"s":"G1","t":"2014-08-25","v":275},{"s":"G1","t":"2014-08-26","v":255},{"s":"G1","t":"2014-08-27","v":262},{"s":"G1","t":"2014-08-28","v":250},{"s":"G1","t":"2014-08-30","v":230},{"s":"G1","t":"2014-09-01","v":225},{"s":"G1","t":"2014-09-03","v":215},{"s":"G1","t":"2014-09-05","v":205},{"s":"G1","t":"2014-09-07","v":200},{"s":"G1","t":"2014-09-09","v":165},{"s":"G1","t":"2014-09-10","v":170},{"s":"G1","t":"2014-09-12","v":200},{"s":"G1","t":"2014-09-16","v":195},{"s":"G1","t":"2014-09-21","v":190},{"s":"G1","t":"2014-09-26","v":180},{"s":"G1","t":"2014-10-01","v":165},{"s":"G1","t":"2014-10-06","v":150},{"s":"G1","t":"2014-10-16","v":135},{"s":"G1","t":"2014-10-26","v":125},{"s":"G1","t":"2014-11-05","v":118},{"s":"G1","t":"2014-11-15","v":110},{"s":"G1","t":"2014-12-05","v":100},{"s":"G1","t":"2014-12-25","v":95},{"s":"G1","t":"2015-01-14","v":90},{"s":"G1","t":"2015-02-03","v":88},{"s":"G1","t":"2015-02-23","v":85},{"s":"G1","t":"2015-04-04","v":80},{"s":"G1","t":"2015-05-14","v":75},{"s":"G1","t":"2015-06-23","v":70},{"s":"G1","t":"2015-08-06","v":66},
{"s":"S8","t":"2014-08-07","v":180},{"s":"S8","t":"2014-08-08","v":195},{"s":"S8","t":"2014-08-09","v":190},{"s":"S8","t":"2014-08-10","v":170},{"s":"S8","t":"2014-08-11","v":140},{"s":"S8","t":"2014-08-12","v":130},{"s":"S8","t":"2014-08-13","v":160},{"s":"S8","t":"2014-08-14","v":170},{"s":"S8","t":"2014-08-15","v":175},{"s":"S8","t":"2014-08-16","v":160},{"s":"S8","t":"2014-08-17","v":150},{"s":"S8","t":"2014-08-18","v":155},{"s":"S8","t":"2014-08-19","v":150},{"s":"S8","t":"2014-08-20","v":140},{"s":"S8","t":"2014-08-21","v":135},{"s":"S8","t":"2014-08-23","v":140},{"s":"S8","t":"2014-08-27","v":130},{"s":"S8","t":"2014-09-01","v":125},{"s":"S8","t":"2014-09-06","v":130},{"s":"S8","t":"2014-09-09","v":100},{"s":"S8","t":"2014-09-11","v":130},{"s":"S8","t":"2014-09-16","v":125},{"s":"S8","t":"2014-09-26","v":120},{"s":"S8","t":"2014-10-06","v":115},{"s":"S8","t":"2014-10-26","v":108},{"s":"S8","t":"2014-11-15","v":100},{"s":"S8","t":"2014-12-15","v":86},{"s":"S8","t":"2015-01-14","v":78},{"s":"S8","t":"2015-02-23","v":70},{"s":"S8","t":"2015-04-14","v":66},{"s":"S8","t":"2015-06-03","v":62},{"s":"S8","t":"2015-08-06","v":58},
{"s":"S7","t":"2014-08-07","v":86},{"s":"S7","t":"2014-08-17","v":90},{"s":"S7","t":"2014-08-27","v":84},{"s":"S7","t":"2014-09-16","v":80},{"s":"S7","t":"2014-10-06","v":74},{"s":"S7","t":"2014-11-05","v":68},{"s":"S7","t":"2014-12-05","v":62},{"s":"S7","t":"2015-02-03","v":54},{"s":"S7","t":"2015-04-04","v":50},{"s":"S7","t":"2015-06-03","v":48},{"s":"S7","t":"2015-08-06","v":47},
{"s":"S6","t":"2014-08-07","v":68},{"s":"S6","t":"2014-08-17","v":72},{"s":"S6","t":"2014-08-27","v":66},{"s":"S6","t":"2014-09-16","v":62},{"s":"S6","t":"2014-10-06","v":58},{"s":"S6","t":"2014-11-05","v":55},{"s":"S6","t":"2014-12-05","v":52},{"s":"S6","t":"2015-02-03","v":47},{"s":"S6","t":"2015-04-04","v":44},{"s":"S6","t":"2015-06-03","v":43},{"s":"S6","t":"2015-08-06","v":42},
{"s":"S5","t":"2014-08-07","v":54},{"s":"S5","t":"2014-08-17","v":56},{"s":"S5","t":"2014-08-27","v":52},{"s":"S5","t":"2014-09-16","v":50},{"s":"S5","t":"2014-10-06","v":47},{"s":"S5","t":"2014-11-05","v":45},{"s":"S5","t":"2014-12-05","v":43},{"s":"S5","t":"2015-02-03","v":40},{"s":"S5","t":"2015-04-04","v":38},{"s":"S5","t":"2015-06-03","v":37},{"s":"S5","t":"2015-08-06","v":36},
{"s":"S4","t":"2014-08-07","v":42},{"s":"S4","t":"2014-08-17","v":44},{"s":"S4","t":"2014-08-27","v":40},{"s":"S4","t":"2014-09-16","v":38},{"s":"S4","t":"2014-10-06","v":36},{"s":"S4","t":"2014-11-05","v":35},{"s":"S4","t":"2014-12-05","v":34},{"s":"S4","t":"2015-02-03","v":32},{"s":"S4","t":"2015-04-04","v":30},{"s":"S4","t":"2015-06-03","v":30},{"s":"S4","t":"2015-08-06","v":29},
{"s":"S3","t":"2014-08-07","v":26},{"s":"S3","t":"2014-08-17","v":27},{"s":"S3","t":"2014-08-27","v":25},{"s":"S3","t":"2014-09-16","v":24},{"s":"S3","t":"2014-10-06","v":23},{"s":"S3","t":"2014-11-05","v":22},{"s":"S3","t":"2014-12-05","v":21},{"s":"S3","t":"2015-02-03","v":20},{"s":"S3","t":"2015-04-04","v":19},{"s":"S3","t":"2015-06-03","v":19},{"s":"S3","t":"2015-08-06","v":18},
{"s":"S2","t":"2014-08-07","v":18},{"s":"S2","t":"2014-08-17","v":19},{"s":"S2","t":"2014-08-27","v":18},{"s":"S2","t":"2014-09-16","v":17},{"s":"S2","t":"2014-10-06","v":16},{"s":"S2","t":"2014-11-05","v":16},{"s":"S2","t":"2014-12-05","v":15},{"s":"S2","t":"2015-02-03","v":15},{"s":"S2","t":"2015-04-04","v":14},{"s":"S2","t":"2015-06-03","v":14},{"s":"S2","t":"2015-08-06","v":13},
{"s":"S1","t":"2014-08-07","v":5},{"s":"S1","t":"2015-08-06","v":5}
]},
"encoding":{
"x":{"field":"t","type":"temporal","scale":{"type":"utc","domain":[{"year":2014,"month":8,"date":7,"utc":true},{"year":2015,"month":8,"date":5,"hours":12,"utc":true}]},"axis":null},
"y":{"field":"v","type":"quantitative","stack":null,"scale":{"domain":[0,3348],"nice":false,"zero":true},"axis":null},
"color":{"field":"s","type":"nominal","scale":{"domain":["S1","S2","S3","S4","S5","S6","S7","S8","G1","LB","LV","SL","PK","OR","RD","BL","GR","YE"],"range":["#330099","#9933cc","#ff44cc","#ffee33","#eeeeee","#88dddd","#006600","#990033","#66ff33","#0099e6","#cc99ff","#666699","#ff66ff","#ff9933","#cc0022","#0033ff","#33ff00","#ffe680"]},"legend":null}
},
"resolve":{"axis":{"x":"independent","y":"independent"}},
"layer":[
{"data":{"name":"env"},"mark":{"type":"bar","clip":true,"binSpacing":0,"strokeWidth":0.7},
"encoding":{
"x":{"field":"t","type":"temporal","timeUnit":"utcyearmonthdate","scale":{"type":"utc","domain":[{"year":2014,"month":8,"date":7,"utc":true},{"year":2015,"month":8,"date":5,"hours":12,"utc":true}]},
"axis":{"orient":"bottom","title":null,"labels":false,"values":[{"year":2014,"month":9,"date":1,"utc":true},{"year":2014,"month":10,"date":1,"utc":true},{"year":2014,"month":11,"date":1,"utc":true},{"year":2014,"month":12,"date":1,"utc":true},{"year":2015,"month":1,"date":1,"utc":true},{"year":2015,"month":2,"date":1,"utc":true},{"year":2015,"month":3,"date":1,"utc":true},{"year":2015,"month":4,"date":1,"utc":true},{"year":2015,"month":5,"date":1,"utc":true},{"year":2015,"month":6,"date":1,"utc":true},{"year":2015,"month":7,"date":1,"utc":true},{"year":2015,"month":8,"date":1,"utc":true}],"grid":true,"gridColor":"#ff0000","gridOpacity":0.4,"gridDash":[1,2],"ticks":true,"tickSize":4,"tickColor":"#ff0000","tickOpacity":0.4,"domain":true,"domainColor":"#808080","domainWidth":1.5,"zindex":1}},
"y":{"field":"l","type":"quantitative","stack":null,"scale":{"domain":[0,3348],"nice":false,"zero":true},
"axis":{"orient":"left","format":"d","values":[0,200,400,600,800,1000,1200,1400,1600,1800,2000,2200,2400,2600,2800,3000,3200],"grid":true,"gridColor":"#ff0000","gridOpacity":0.4,"gridDash":[1,2],"ticks":true,"tickSize":4,"tickColor":"#ff0000","tickOpacity":0.4,"domain":true,"domainColor":"#808080","domainWidth":1.5,"labelFont":"DejaVu Sans Mono","labelFontSize":19,"labelColor":"#111111","labelPadding":9,"title":"routers","titleFont":"DejaVu Sans Mono","titleFontSize":19,"titleFontWeight":"normal","titleColor":"#111111","titleX":-112,"titleY":300,"titleAngle":270,"titleAlign":"center","titleBaseline":"middle","zindex":1}},
"stroke":{"field":"s","type":"nominal","scale":{"domain":["S1","S2","S3","S4","S5","S6","S7","S8","G1","LB","LV","SL","PK","OR","RD","BL","GR","YE"],"range":["#330099","#9933cc","#ff44cc","#ffee33","#eeeeee","#88dddd","#006600","#990033","#66ff33","#0099e6","#cc99ff","#666699","#ff66ff","#ff9933","#cc0022","#0033ff","#33ff00","#ffe680"]},"legend":null}}},
{"data":{"name":"env"},"mark":{"type":"rule","clip":true,"strokeWidth":3},
"encoding":{
"x":{"field":"t","type":"temporal","timeUnit":"utcyearmonthdate","bandPosition":0.5,"scale":{"type":"utc","domain":[{"year":2014,"month":8,"date":7,"utc":true},{"year":2015,"month":8,"date":5,"hours":12,"utc":true}]},
"axis":{"orient":"bottom","title":null,"values":[{"year":2014,"month":8,"date":16,"hours":17,"utc":true},{"year":2014,"month":9,"date":16,"hours":17,"utc":true},{"year":2014,"month":10,"date":16,"hours":17,"utc":true},{"year":2014,"month":11,"date":16,"hours":17,"utc":true},{"year":2014,"month":12,"date":16,"hours":17,"utc":true},{"year":2015,"month":1,"date":16,"hours":17,"utc":true},{"year":2015,"month":2,"date":16,"hours":17,"utc":true},{"year":2015,"month":3,"date":16,"hours":17,"utc":true},{"year":2015,"month":4,"date":16,"hours":17,"utc":true},{"year":2015,"month":5,"date":16,"hours":17,"utc":true},{"year":2015,"month":6,"date":16,"hours":17,"utc":true},{"year":2015,"month":7,"date":16,"hours":17,"utc":true}],"labelExpr":"utcFormat(datum.value, '%b %y')","grid":false,"ticks":false,"domain":false,"labelFont":"DejaVu Sans Mono","labelFontSize":19,"labelColor":"#111111","labelPadding":8,"labelFlush":false,"labelOverlap":false,"zindex":1}},
"y":{"field":"h","type":"quantitative","stack":null,"scale":{"domain":[0,3348],"nice":false,"zero":true},
"axis":{"orient":"left","title":null,"labels":false,"values":[100,300,500,700,900,1100,1300,1500,1700,1900,2100,2300,2500,2700,2900,3100,3300],"grid":true,"gridColor":"#808080","gridOpacity":0.5,"gridDash":[1,2],"ticks":true,"tickSize":3,"tickColor":"#808080","domain":false,"zindex":1}},
"y2":{"field":"l"}}},
{"data":{"name":"dec"},"transform":[{"filter":"datum.s==='GR'"}],"mark":{"type":"area","clip":true}},
{"data":{"name":"dec"},"transform":[{"filter":"datum.s==='BL'"}],"mark":{"type":"area","clip":true}},
{"data":{"name":"dec"},"transform":[{"filter":"datum.s==='RD'"}],"mark":{"type":"area","clip":true}},
{"data":{"name":"dec"},"transform":[{"filter":"datum.s==='OR'"}],"mark":{"type":"area","clip":true}},
{"data":{"name":"dec"},"transform":[{"filter":"datum.s==='PK'"}],"mark":{"type":"area","clip":true}},
{"data":{"name":"dec"},"transform":[{"filter":"datum.s==='SL'"}],"mark":{"type":"area","clip":true}},
{"data":{"name":"dec"},"transform":[{"filter":"datum.s==='LV'"}],"mark":{"type":"area","clip":true}},
{"data":{"name":"dec"},"transform":[{"filter":"datum.s==='LB'"}],"mark":{"type":"area","clip":true}},
{"data":{"name":"dec"},"transform":[{"filter":"datum.s==='G1'"}],"mark":{"type":"area","clip":true}},
{"data":{"name":"dec"},"transform":[{"filter":"datum.s==='S8'"}],"mark":{"type":"area","clip":true}},
{"data":{"name":"dec"},"transform":[{"filter":"datum.s==='S7'"}],"mark":{"type":"area","clip":true}},
{"data":{"name":"dec"},"transform":[{"filter":"datum.s==='S6'"}],"mark":{"type":"area","clip":true}},
{"data":{"name":"dec"},"transform":[{"filter":"datum.s==='S5'"}],"mark":{"type":"area","clip":true}},
{"data":{"name":"dec"},"transform":[{"filter":"datum.s==='S4'"}],"mark":{"type":"area","clip":true}},
{"data":{"name":"dec"},"transform":[{"filter":"datum.s==='S3'"}],"mark":{"type":"area","clip":true}},
{"data":{"name":"dec"},"transform":[{"filter":"datum.s==='S2'"}],"mark":{"type":"area","clip":true}},
{"data":{"name":"dec"},"transform":[{"filter":"datum.s==='S1'"}],"mark":{"type":"area","clip":true}},
{"data":{"values":[{"t":"2014-08-07","v":3348}]},"mark":{"type":"point","shape":"triangle-up","filled":true,"size":80,"yOffset":-7,"opacity":1},"encoding":{"color":{"value":"#800000"}}},
{"data":{"values":[{"t":"2015-08-05T12:00:00Z","v":0}]},"mark":{"type":"point","shape":"triangle-right","filled":true,"size":80,"xOffset":5,"opacity":1},"encoding":{"color":{"value":"#800000"}}}
]
}
